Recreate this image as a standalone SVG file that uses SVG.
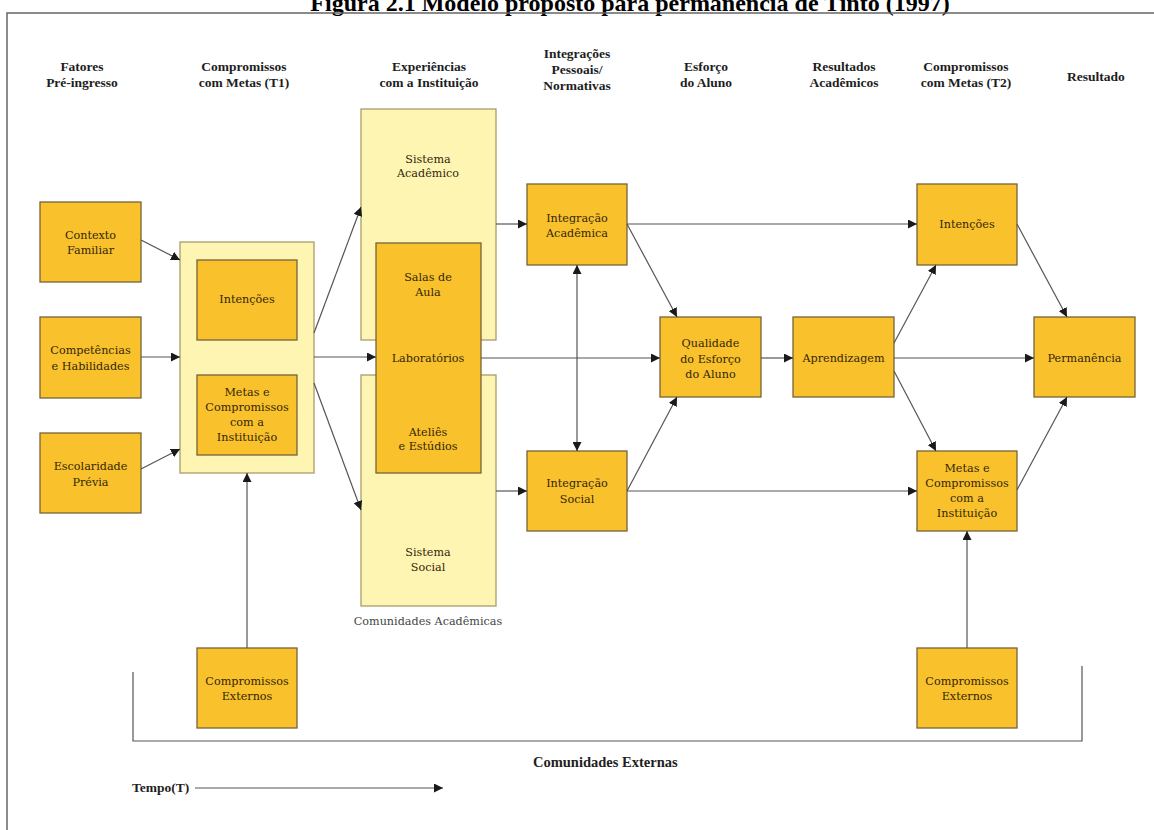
<svg xmlns="http://www.w3.org/2000/svg" width="1154" height="830" viewBox="0 0 1154 830">
<style>
.bg{fill:#ffffff}
.frame{fill:none;stroke:#666;stroke-width:1.5}
.box{fill:#F9C12B;stroke:#76633a;stroke-width:1.3}
.pale{fill:#FFF5B3;stroke:#a89c6a;stroke-width:1.3}
.t{font-family:"DejaVu Serif","Liberation Serif",serif;font-size:11.2px;fill:#33260a;text-anchor:middle}
.h{font-family:"Liberation Serif",serif;font-weight:bold;font-size:13.5px;fill:#1e1e1e;text-anchor:middle}
.title{font-family:"Liberation Serif",serif;font-weight:bold;font-size:24px;fill:#000;text-anchor:middle}
.cap{font-family:"DejaVu Serif","Liberation Serif",serif;font-size:11.2px;fill:#444;text-anchor:middle}
.c{fill:none;stroke:#555;stroke-width:1.2}
</style>
<defs>
<marker id="ah" viewBox="0 0 10 10" refX="10" refY="5" markerWidth="9" markerHeight="9" markerUnits="userSpaceOnUse" orient="auto-start-reverse">
<path d="M0,0 L10,5 L0,10 z" fill="#1a1a1a"/>
</marker>
</defs>
<rect class="bg" x="0" y="0" width="1154" height="830"/>
<text class="title" x="630" y="11">Figura 2.1 Modelo proposto para permanência de Tinto (1997)</text>
<path class="frame" d="M7,830 V13 H1154"/>

<g id="headers">
<text class="h" x="82" y="71">Fatores</text>
<text class="h" x="82" y="87">Pré-ingresso</text>
<text class="h" x="244" y="71">Compromissos</text>
<text class="h" x="244" y="87">com Metas (T1)</text>
<text class="h" x="429" y="71">Experiências</text>
<text class="h" x="429" y="87">com a Instituição</text>
<text class="h" x="577" y="58">Integrações</text>
<text class="h" x="577" y="74">Pessoais/</text>
<text class="h" x="577" y="90">Normativas</text>
<text class="h" x="706" y="71">Esforço</text>
<text class="h" x="706" y="87">do Aluno</text>
<text class="h" x="844" y="71">Resultados</text>
<text class="h" x="844" y="87">Acadêmicos</text>
<text class="h" x="966" y="71">Compromissos</text>
<text class="h" x="966" y="87">com Metas (T2)</text>
<text class="h" x="1096" y="81">Resultado</text>
</g>

<g id="comunidades-externas">
<path class="c" d="M133,672 V741 H1082 V666"/>
<text class="h" x="533" y="767" style="text-anchor:start;font-size:14.5px">Comunidades Externas</text>
</g>

<g id="contexto-familiar">
<rect class="box" x="40" y="202" width="101" height="80"/>
<text class="t" x="90.5" y="239">Contexto</text>
<text class="t" x="90.5" y="254">Familiar</text>
</g>
<g id="competencias">
<rect class="box" x="40" y="317" width="101" height="81"/>
<text class="t" x="90.5" y="354">Competências</text>
<text class="t" x="90.5" y="370">e Habilidades</text>
</g>
<g id="escolaridade">
<rect class="box" x="40" y="433" width="101" height="80"/>
<text class="t" x="90.5" y="470">Escolaridade</text>
<text class="t" x="90.5" y="486">Prévia</text>
</g>

<g id="compromissos-t1">
<rect class="pale" x="180" y="242" width="134" height="231"/>
</g>
<g id="intencoes-t1">
<rect class="box" x="197" y="260" width="100" height="80"/>
<text class="t" x="247" y="303">Intenções</text>
</g>
<g id="metas-t1">
<rect class="box" x="197" y="375" width="100" height="80"/>
<text class="t" x="247" y="396">Metas e</text>
<text class="t" x="247" y="411">Compromissos</text>
<text class="t" x="247" y="426">com a</text>
<text class="t" x="247" y="441">Instituição</text>
</g>

<g id="compromissos-externos-1">
<rect class="box" x="197" y="648" width="100" height="80"/>
<text class="t" x="247" y="685">Compromissos</text>
<text class="t" x="247" y="700">Externos</text>
</g>

<g id="sistema-academico">
<rect class="pale" x="361" y="109" width="135" height="231"/>
<text class="t" x="428" y="163">Sistema</text>
<text class="t" x="428" y="177">Acadêmico</text>
</g>
<g id="sistema-social">
<rect class="pale" x="361" y="375" width="135" height="231"/>
<text class="t" x="428" y="556">Sistema</text>
<text class="t" x="428" y="571">Social</text>
</g>
<g id="salas-laboratorios">
<rect class="box" x="376" y="243" width="105" height="230"/>
<text class="t" x="428" y="281">Salas de</text>
<text class="t" x="428" y="296">Aula</text>
<text class="t" x="428" y="362">Laboratórios</text>
<text class="t" x="428" y="436">Ateliês</text>
<text class="t" x="428" y="450">e Estúdios</text>
</g>
<text class="cap" x="428" y="625">Comunidades Acadêmicas</text>

<g id="integracao-academica">
<rect class="box" x="527" y="184" width="100" height="81"/>
<text class="t" x="577" y="222">Integração</text>
<text class="t" x="577" y="237">Acadêmica</text>
</g>
<g id="integracao-social">
<rect class="box" x="527" y="451" width="100" height="80"/>
<text class="t" x="577" y="487">Integração</text>
<text class="t" x="577" y="503">Social</text>
</g>

<g id="qualidade-esforco">
<rect class="box" x="660" y="317" width="101" height="80"/>
<text class="t" x="710.5" y="347">Qualidade</text>
<text class="t" x="710.5" y="363">do Esforço</text>
<text class="t" x="710.5" y="378">do Aluno</text>
</g>
<g id="aprendizagem">
<rect class="box" x="793" y="317" width="101" height="80"/>
<text class="t" x="843.5" y="362">Aprendizagem</text>
</g>

<g id="intencoes-t2">
<rect class="box" x="917" y="184" width="100" height="81"/>
<text class="t" x="967" y="228">Intenções</text>
</g>
<g id="metas-t2">
<rect class="box" x="917" y="451" width="100" height="80"/>
<text class="t" x="967" y="472">Metas e</text>
<text class="t" x="967" y="487">Compromissos</text>
<text class="t" x="967" y="502">com a</text>
<text class="t" x="967" y="517">Instituição</text>
</g>
<g id="compromissos-externos-2">
<rect class="box" x="917" y="648" width="100" height="80"/>
<text class="t" x="967" y="685">Compromissos</text>
<text class="t" x="967" y="700">Externos</text>
</g>

<g id="permanencia">
<rect class="box" x="1034" y="317" width="101" height="80"/>
<text class="t" x="1084.5" y="362">Permanência</text>
</g>

<g id="connectors">
<line class="c" x1="141" y1="240" x2="180" y2="260" marker-end="url(#ah)"/>
<line class="c" x1="141" y1="357" x2="180" y2="357" marker-end="url(#ah)"/>
<line class="c" x1="141" y1="469" x2="180" y2="449" marker-end="url(#ah)"/>
<line class="c" x1="247" y1="648" x2="247" y2="473" marker-end="url(#ah)"/>
<line class="c" x1="314" y1="333" x2="361" y2="207" marker-end="url(#ah)"/>
<line class="c" x1="314" y1="357" x2="376" y2="357" marker-end="url(#ah)"/>
<line class="c" x1="314" y1="383" x2="361" y2="510" marker-end="url(#ah)"/>
<line class="c" x1="496" y1="224" x2="527" y2="224" marker-end="url(#ah)"/>
<line class="c" x1="496" y1="491" x2="527" y2="491" marker-end="url(#ah)"/>
<line class="c" x1="481" y1="358" x2="660" y2="358" marker-end="url(#ah)"/>
<line class="c" x1="577" y1="265" x2="577" y2="451" marker-start="url(#ah)" marker-end="url(#ah)"/>
<line class="c" x1="627" y1="224" x2="677" y2="317" marker-end="url(#ah)"/>
<line class="c" x1="627" y1="491" x2="677" y2="397" marker-end="url(#ah)"/>
<line class="c" x1="627" y1="224" x2="917" y2="224" marker-end="url(#ah)"/>
<line class="c" x1="627" y1="491" x2="917" y2="491" marker-end="url(#ah)"/>
<line class="c" x1="761" y1="358" x2="793" y2="358" marker-end="url(#ah)"/>
<line class="c" x1="894" y1="343" x2="936" y2="265" marker-end="url(#ah)"/>
<line class="c" x1="894" y1="371" x2="936" y2="451" marker-end="url(#ah)"/>
<line class="c" x1="894" y1="358" x2="1034" y2="358" marker-end="url(#ah)"/>
<line class="c" x1="1017" y1="224" x2="1067" y2="317" marker-end="url(#ah)"/>
<line class="c" x1="1017" y1="490" x2="1067" y2="397" marker-end="url(#ah)"/>
<line class="c" x1="967" y1="648" x2="967" y2="531" marker-end="url(#ah)"/>
<line class="c" x1="195" y1="788" x2="443" y2="788" marker-end="url(#ah)"/>
</g>
<text class="h" x="132" y="792" style="text-anchor:start">Tempo(T)</text>
</svg>
